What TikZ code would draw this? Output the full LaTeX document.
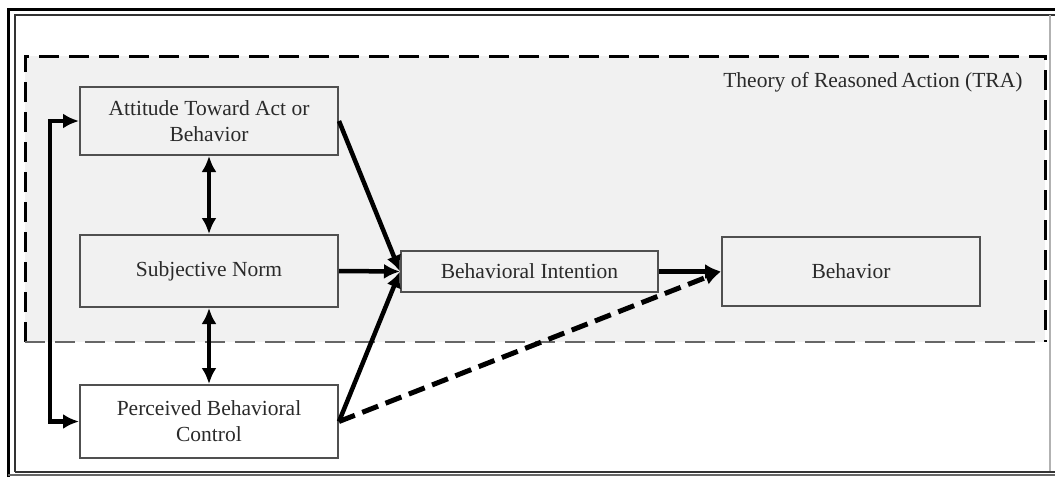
\documentclass[tikz,border=0pt]{standalone}
\usepackage{fontspec}
\setmainfont{Liberation Serif}
\usetikzlibrary{arrows.meta}
\definecolor{txt}{HTML}{2A2A2A}
\definecolor{boxline}{HTML}{505050}
\definecolor{trafill}{HTML}{F1F1F1}
\begin{document}
\begin{tikzpicture}[x=1pt,y=-1pt,
  box/.style={draw=boxline,line width=2pt,minimum height=0pt,inner sep=0pt,text=txt,align=center,font=\fontsize{21.5}{26}\selectfont},
  arr/.style={line width=4.5pt,-{Latex[length=16pt,width=15pt]}},
  darr/.style={line width=4.5pt,{Latex[length=16pt,width=15pt]}-{Latex[length=16pt,width=15pt]}},
  dasharr/.style={line width=5pt,dash pattern=on 17pt off 8pt,-{Latex[length=16pt,width=15pt]}},
  tradash/.style={line width=3pt,dash pattern=on 20pt off 10pt}]
\useasboundingbox (0,0) rectangle (1055,477);
% outer frame
\draw[line width=3pt,draw=black] (8,477) -- (8,9) -- (1055,9);
\draw[line width=1.5pt,draw=black!80] (15,472) -- (15,15) -- (1055,15);
\draw[line width=1.5pt,draw=black!30] (1050,15) -- (1050,472);
\draw[line width=1.5pt,draw=black!80] (15,472) -- (1055,472);
\draw[line width=1.5pt,draw=black!60] (8,475) -- (1055,475);
% TRA region
\fill[trafill] (25,56) rectangle (1045,342);
\draw[tradash,draw=black] (25,342) -- (25,56) -- (1045,56) -- (1045,342);
\draw[line width=2.2pt,dash pattern=on 20pt off 10pt,draw=black!60] (25,342) -- (1045,342);
\node[anchor=east,text=txt,font=\fontsize{21.5}{26}\selectfont] (tra) at (1026,82) {Theory of Reasoned\,Action (TRA)};
% boxes
\node[box,minimum width=258pt,minimum height=68pt] (att) at (209,121) {Attitude Toward Act or\\Behavior};
\node[box,minimum width=258pt,minimum height=72pt] (sn) at (209,271) {Subjective Norm};
\node[box,minimum width=258pt,minimum height=73pt] (pbc) at (209,421.5) {Perceived Behavioral\\Control};
\node[box,minimum width=257pt,minimum height=41pt] (bi) at (529.5,271.5) {Behavioral Intention};
\node[box,minimum width=258pt,minimum height=69pt] (beh) at (851,271.5) {Behavior};
% left connector
\coordinate (lt) at (50,121);
\coordinate (lb) at (50,421.5);
\draw[line width=4.5pt] (lb) -- (lt);
\draw[arr] ([xshift=-2.25pt]lt) -- (att.west);
\draw[arr] ([xshift=-2.25pt]lb) -- (pbc.west);
% double arrows
\draw[darr] (att.south) -- (sn.north);
\draw[darr] (sn.south) -- (pbc.north);
% to BI
\draw[arr] (att.east) -- (bi.west);
\draw[arr] (sn.east) -- (bi.west);
\draw[arr] (pbc.east) -- (bi.west);
\draw[arr] (bi.east) -- (beh.west);
\draw[dasharr] (pbc.east) -- (beh.west);
\end{tikzpicture}
\end{document}
